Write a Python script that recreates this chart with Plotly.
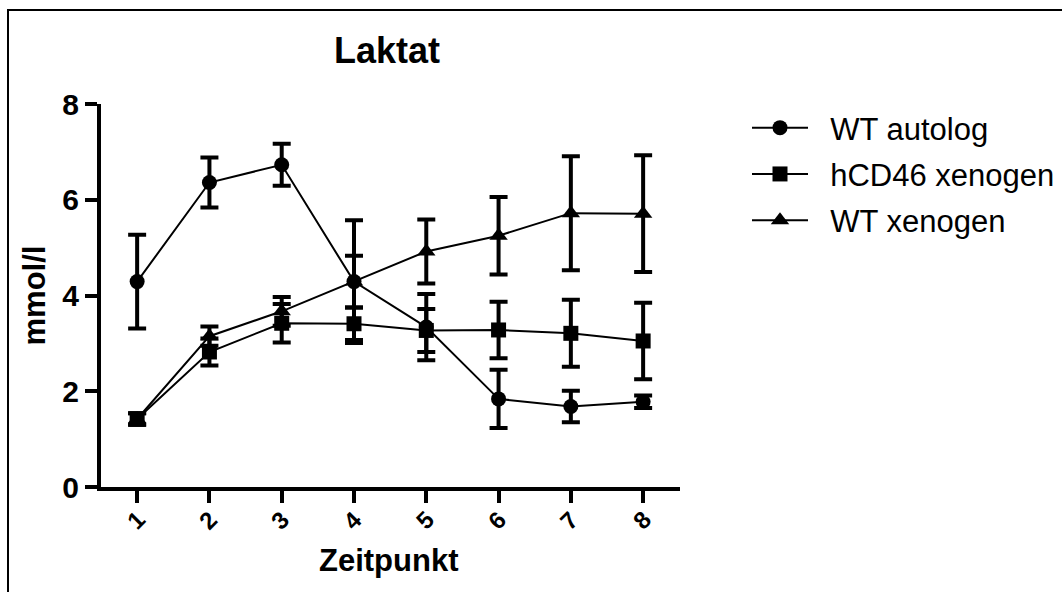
import plotly.graph_objects as go

# Zeitpunkte und Messwerte (Mittelwert ± SEM), Laktat in mmol/l
zeitpunkt = [1, 2, 3, 4, 5, 6, 7, 8]
tick_labels = ["1", "2", "3", "4", "5", "6", "7", "8"]

wt_autolog = [4.29, 6.36, 6.73, 4.29, 3.34, 1.84, 1.68, 1.78]
wt_autolog_sem = [0.98, 0.52, 0.44, 1.28, 0.69, 0.61, 0.33, 0.13]

hcd46_xenogen = [1.42, 2.82, 3.42, 3.41, 3.27, 3.28, 3.21, 3.05]
hcd46_xenogen_sem = [0.12, 0.28, 0.40, 0.34, 0.45, 0.59, 0.70, 0.80]

wt_xenogen = [1.42, 3.15, 3.67, 4.29, 4.92, 5.25, 5.72, 5.71]
wt_xenogen_sem = [0.12, 0.20, 0.30, 0.54, 0.67, 0.81, 1.19, 1.22]

series_names = ["WT autolog", "hCD46 xenogen", "WT xenogen"]
series_values = [wt_autolog, hcd46_xenogen, wt_xenogen]
series_sem = [wt_autolog_sem, hcd46_xenogen_sem, wt_xenogen_sem]
symbols = ["circle", "square", "triangle-up"]

FONT = "Arial, Liberation Sans, sans-serif"
W, H = 1062, 592
L, R, T, B = 101, 382, 104, 105
GAP = "\u00a0\u00a0"  # Abstand zwischen Legendensymbol und Text

fig = go.Figure()
for i, (name, vals, sem, sym) in enumerate(zip(series_names, series_values, series_sem, symbols)):
    fig.add_trace(go.Scatter(
        x=zeitpunkt, y=vals, name=GAP + name, mode="lines+markers",
        legendgroup=name,
        line=dict(color="black", width=2),
        marker=dict(symbol=sym, size=15 if sym != "triangle-up" else 16, color="black"),
        error_y=dict(type="data", array=sem, visible=True, color="black",
                     thickness=4, width=9),
    ))

# Pixel -> Papierkoordinaten
pw, ph = W - L - R, H - T - B
def px_x(p):
    return (p - L) / pw
def px_y(p):
    return (H - B - p) / ph

# Rahmen um die gesamte Grafik
fig.add_shape(type="rect", xref="paper", yref="paper",
              x0=px_x(8), x1=px_x(1075), y0=px_y(10), y1=px_y(610),
              line=dict(color="black", width=2), layer="below")

# X-Achsenbeschriftung, um 45° gedreht, dicht unter den Tickmarken
for t, lab in zip(zeitpunkt, tick_labels):
    fig.add_annotation(x=t, y=px_y(520), xref="x", yref="paper", text=f"<b>{lab}</b>",
                       showarrow=False, textangle=-45, xshift=-2,
                       xanchor="center", yanchor="middle",
                       font=dict(family=FONT, size=24, color="black"))

fig.add_annotation(x=px_x(389), y=px_y(560), xref="paper", yref="paper",
                   text="<b>Zeitpunkt</b>", showarrow=False,
                   xanchor="center", yanchor="middle",
                   font=dict(family=FONT, size=31, color="black"))

axis_common = dict(
    showline=True, linewidth=4, linecolor="black",
    ticks="outside", ticklen=12, tickwidth=4, tickcolor="black",
    showgrid=False, zeroline=False, automargin=False,
    tickfont=dict(family=FONT, size=30, color="black", weight="bold"),
)

fig.update_layout(
    width=W, height=H,
    margin=dict(l=L, r=R, t=T, b=B, autoexpand=False),
    paper_bgcolor="white", plot_bgcolor="white",
    title=dict(text="<b>Laktat</b>", x=387 / W, xanchor="center",
               y=1 - 50 / H, yanchor="middle",
               font=dict(family=FONT, size=36, color="black")),
    xaxis=dict(range=[0.5, 8.51], tickvals=zeitpunkt, showticklabels=False,
               **axis_common),
    yaxis=dict(range=[0, 8], tickvals=[0, 2, 4, 6, 8],
               title=dict(text="<b>mmol/l</b>", standoff=8,
                          font=dict(family=FONT, size=31, color="black")),
               **axis_common),
    legend=dict(x=px_x(747), y=px_y(101), xanchor="left", yanchor="top",
                font=dict(family=FONT, size=31, color="black"),
                tracegroupgap=3, itemwidth=56, bgcolor="rgba(0,0,0,0)"),
    showlegend=True,
)

fig.write_html("out.html")
